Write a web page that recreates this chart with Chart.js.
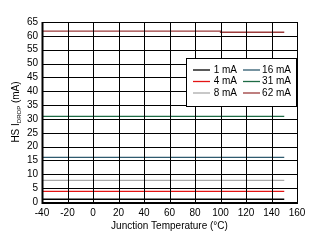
<!DOCTYPE html>
<html>
<head>
<meta charset="utf-8">
<script src="https://cdn.jsdelivr.net/npm/chart.js@4"></script>
<style>
  html, body { margin: 0; padding: 0; background: #fff; }
  #wrap { width: 319px; height: 243px; }
</style>
</head>
<body>
<div id="wrap"><canvas id="myChart" width="319" height="243"></canvas></div>
<script>
// junction temperature points (°C)
const temps = [-40, -20, 0, 20, 40, 60, 80, 100, 105, 120, 140, 150];

// HS I_DROP (mA) for each load current
const drop1mA  = [1.0, 1.0, 1.0, 1.0, 1.0, 1.0, 1.0, 1.0, 1.0, 1.0, 1.0, 1.0];
const drop4mA  = [3.85, 3.85, 3.85, 3.85, 3.85, 3.85, 3.85, 3.85, 3.85, 3.85, 3.85, 3.85];
const drop8mA  = [7.8, 7.8, 7.8, 7.8, 7.8, 7.8, 7.8, 7.8, 7.8, 7.8, 7.8, 7.8];
const drop16mA = [16.1, 16.1, 16.1, 16.1, 16.1, 16.1, 16.1, 16.1, 16.1, 16.1, 16.1, 16.1];
const drop31mA = [30.9, 30.9, 30.9, 30.9, 30.9, 30.9, 30.9, 30.9, 30.9, 30.9, 30.9, 30.9];
const drop62mA = [61.7, 61.7, 61.7, 61.7, 61.7, 61.7, 61.7, 61.7, 61.3, 61.3, 61.3, 61.3];

const seriesLabels = ['1 mA', '4 mA', '8 mA', '16 mA', '31 mA', '62 mA'];
const seriesValues = [drop1mA, drop4mA, drop8mA, drop16mA, drop31mA, drop62mA];
const seriesColors = ['#000000', '#e41414', '#aaaaaa', '#2e5a6e', '#1e6b45', '#9b3a3a'];

// tick ranges
const xMin = -40, xMax = 160, xStep = 20;
const yMin = 0, yMax = 65, yStep = 5;

const FONT = '"Liberation Sans", Arial, sans-serif';

function toPoints(values) {
    return values.map((v, i) => ({ x: temps[i], y: v }));
}

// grid, axis titles (y title has a subscript) and the boxed legend
const decorations = {
    id: 'decorations',
    afterDraw(chart) {
        const ctx = chart.ctx;
        const xs = chart.scales.x, ys = chart.scales.y;
        const left = Math.round(xs.getPixelForValue(xMin));
        const right = Math.round(xs.getPixelForValue(xMax));
        const top = Math.round(ys.getPixelForValue(yMax));
        const bottom = Math.round(ys.getPixelForValue(yMin));

        ctx.save();
        ctx.setLineDash([]);
        ctx.globalAlpha = 1;
        ctx.globalCompositeOperation = 'source-over';

        // black grid on every tick (lines never touch the series, so order does not matter)
        ctx.strokeStyle = '#000000';
        ctx.lineWidth = 1;
        ctx.beginPath();
        for (let v = xMin; v <= xMax; v += xStep) {
            const px = Math.round(xs.getPixelForValue(v)) + 0.5;
            ctx.moveTo(px, top);
            ctx.lineTo(px, bottom + 1);
        }
        for (let v = yMin; v <= yMax; v += yStep) {
            const py = Math.round(ys.getPixelForValue(v)) + 0.5;
            ctx.moveTo(left, py);
            ctx.lineTo(right + 1, py);
        }
        ctx.stroke();

        // heavier left and bottom frame
        ctx.lineWidth = 2;
        ctx.beginPath();
        ctx.moveTo(left + 0.5, top);
        ctx.lineTo(left + 0.5, bottom + 1);
        ctx.lineTo(right + 1, bottom + 1);
        ctx.stroke();

        ctx.fillStyle = '#000';

        // x title
        ctx.font = '10px ' + FONT;
        ctx.textAlign = 'center';
        ctx.textBaseline = 'middle';
        ctx.fillText('Junction Temperature (°C)', (left + right) / 2, 226);

        // y title with subscript
        ctx.save();
        ctx.translate(16, (top + bottom) / 2);
        ctx.rotate(-Math.PI / 2);
        const p1 = 'HS I', sub = 'DROP', p2 = ' (mA)';
        ctx.font = '10px ' + FONT;
        const w1 = ctx.measureText(p1).width;
        const w3 = ctx.measureText(p2).width;
        ctx.font = '6px ' + FONT;
        const w2 = ctx.measureText(sub).width;
        let x = -(w1 + w2 + w3) / 2;
        ctx.textAlign = 'left';
        ctx.textBaseline = 'middle';
        ctx.font = '10px ' + FONT;
        ctx.fillText(p1, x, 0);
        x += w1;
        ctx.font = '6px ' + FONT;
        ctx.fillText(sub, x, 3);
        x += w2;
        ctx.font = '10px ' + FONT;
        ctx.fillText(p2, x, 0);
        ctx.restore();

        // legend box
        const bx = 186.5, by = 58.5, bw = 110, bh = 48;
        ctx.fillStyle = '#fff';
        ctx.fillRect(bx, by, bw, bh);
        ctx.strokeStyle = '#000';
        ctx.lineWidth = 1;
        ctx.strokeRect(bx, by, bw, bh);

        const cols = [{ lx: 193, tx: 237 }, { lx: 243, tx: 291 }];
        const rows = [70, 81.5, 93];
        ctx.font = '10px ' + FONT;
        ctx.textAlign = 'right';
        ctx.textBaseline = 'middle';
        chart.data.datasets.forEach((ds, i) => {
            const c = cols[Math.floor(i / 3)];
            const y = rows[i % 3];
            ctx.strokeStyle = ds.borderColor;
            ctx.lineWidth = 1.3;
            ctx.beginPath();
            ctx.moveTo(c.lx, y);
            ctx.lineTo(c.lx + 17, y);
            ctx.stroke();
            ctx.fillStyle = '#000';
            ctx.fillText(ds.label, c.tx, y);
        });
        ctx.restore();
    }
};

function renderChart() {
    const ctx = document.getElementById('myChart').getContext('2d');
    const myChart = new Chart(ctx, {
        type: 'line',
        data: {
            datasets: seriesLabels.map((label, i) => ({
                label: label,
                data: toPoints(seriesValues[i]),
                borderColor: seriesColors[i],
                borderWidth: 1.3,
                pointRadius: 0,
                stepped: 'after',
                fill: false
            }))
        },
        options: {
            responsive: false,
            animation: false,
            layout: { padding: { left: 0, top: 22, right: 22, bottom: 0 } },
            plugins: {
                legend: { display: false },
                tooltip: { enabled: false }
            },
            scales: {
                x: {
                    type: 'linear',
                    min: xMin,
                    max: xMax,
                    afterFit: (scale) => { scale.height = 41; },
                    grid: { display: false, drawTicks: false },
                    border: { display: false },
                    ticks: { stepSize: xStep, autoSkip: false, color: '#000', font: { family: FONT, size: 10 }, padding: 5, maxRotation: 0 }
                },
                y: {
                    type: 'linear',
                    min: yMin,
                    max: yMax,
                    afterFit: (scale) => { scale.width = 42; },
                    grid: { display: false, drawTicks: false },
                    border: { display: false },
                    ticks: { stepSize: yStep, autoSkip: false, color: '#000', font: { family: FONT, size: 10 }, padding: 4 }
                }
            }
        },
        plugins: [decorations]
    });
}

document.addEventListener('DOMContentLoaded', function() {
    renderChart();
});
</script>
</body>
</html>
